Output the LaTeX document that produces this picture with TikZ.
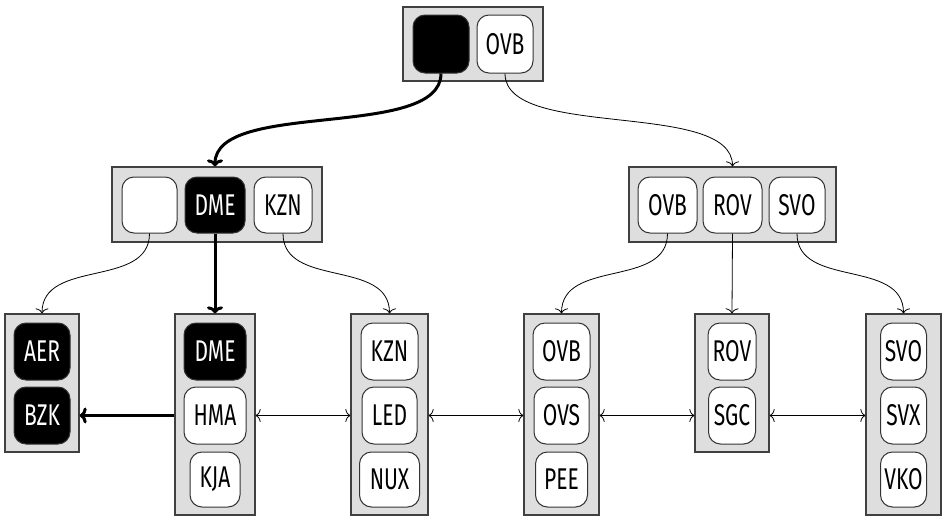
\documentclass[tikz,border=0pt]{standalone}
\usepackage{fontspec}
\setmainfont{Fira Sans}[FakeStretch=0.7]
\usetikzlibrary{arrows.meta}
\begin{document}
\begin{tikzpicture}[x=1pt,y=-1pt,
  grp/.style={draw=black!75, fill=black!13, line width=1.3pt, inner sep=0pt},
  key/.style={draw=black!80, fill=white, line width=1pt, rounded corners=12pt, minimum height=57pt, inner sep=0pt, font=\fontsize{30}{34}\selectfont},
  hot/.style={key, fill=black, text=white},
  thinarr/.style={line width=0.8pt, -{To[length=5pt,width=13pt]}},
  thinboth/.style={line width=0.8pt, {To[length=5pt,width=13pt]}-{To[length=5pt,width=13pt]}},
  thickarr/.style={line width=3pt, -{To[length=7pt,width=16pt]}}
]
\useasboundingbox (0,0) rectangle (943,517);
% root
\node[grp, minimum width=140pt, minimum height=74pt] (r) at (473,44) {};
\node[hot, minimum width=56pt, minimum height=58pt] (r1) at (441,44) {};
\node[key, minimum width=56pt, minimum height=58pt] (r2) at (505,44) {OVB};
% level 2 left
\node[grp, minimum width=210pt, minimum height=75pt] (a) at (217,204.5) {};
\node[key, minimum width=55pt, minimum height=56pt] (a1) at (149.5,205) {};
\node[hot, minimum width=60pt, minimum height=56pt] (a2) at (215,205) {DME};
\node[key, minimum width=58pt, minimum height=56pt] (a3) at (283,205) {KZN};
% level 2 right
\node[grp, minimum width=207pt, minimum height=75pt] (b) at (732.5,204.5) {};
\node[key, minimum width=59pt, minimum height=56pt] (b1) at (667.5,205) {OVB};
\node[key, minimum width=59pt, minimum height=56pt] (b2) at (732.5,205) {ROV};
\node[key, minimum width=56pt, minimum height=56pt] (b3) at (797,205) {SVO};
% leaves
\node[grp, minimum width=74pt, minimum height=138pt] (l1) at (42,383) {};
\node[hot, minimum width=56pt] (l1a) at (42,351.5) {AER};
\node[hot, minimum width=56pt] (l1b) at (42,415.5) {BZK};

\node[grp, minimum width=80pt, minimum height=201pt] (l2) at (215,414.5) {};
\node[hot, minimum width=62pt] (l2a) at (215,351.5) {DME};
\node[key, minimum width=62pt] (l2b) at (215,415.5) {HMA};
\node[key, minimum width=50pt, minimum height=55pt] (l2c) at (215,479.5) {KJA};

\node[grp, minimum width=77pt, minimum height=201pt] (l3) at (389.5,414.5) {};
\node[key, minimum width=57pt] (l3a) at (389.5,351.5) {KZN};
\node[key, minimum width=55pt] (l3b) at (389.5,415.5) {LED};
\node[key, minimum width=60pt, minimum height=55pt] (l3c) at (389.5,479.5) {NUX};

\node[grp, minimum width=75pt, minimum height=201pt] (l4) at (561.5,414.5) {};
\node[key, minimum width=57pt] (l4a) at (561.5,351.5) {OVB};
\node[key, minimum width=55pt] (l4b) at (561.5,415.5) {OVS};
\node[key, minimum width=52pt, minimum height=55pt] (l4c) at (561.5,479.5) {PEE};

\node[grp, minimum width=74pt, minimum height=138pt] (l5) at (732,383) {};
\node[key, minimum width=48pt] (l5a) at (732,351.5) {ROV};
\node[key, minimum width=47pt] (l5b) at (732,415.5) {SGC};

\node[grp, minimum width=75pt, minimum height=201pt] (l6) at (903.5,414.5) {};
\node[key, minimum width=46pt] (l6a) at (903.5,351.5) {SVO};
\node[key, minimum width=46pt] (l6b) at (903.5,415.5) {SVX};
\node[key, minimum width=46pt, minimum height=55pt] (l6c) at (903.5,479.5) {VKO};

% tree connectors
\draw[thickarr] (r1.south) .. controls +(0,67) and +(0,-67) .. (a2 |- a.north);
\draw[thinarr] (r2.south) .. controls +(0,67) and +(0,-67) .. (b2 |- b.north);
\draw[thinarr] (a1.south) .. controls +(0,55) and +(0,-55) .. (l1.north);
\draw[thickarr] (a2.south) -- (l2.north);
\draw[thinarr] (a3.south) .. controls +(0,55) and +(0,-55) .. (l3.north);
\draw[thinarr] (b1.south) .. controls +(0,55) and +(0,-55) .. (l4.north);
\draw[thinarr] (b2.south) -- (l5.north);
\draw[thinarr] (b3.south) .. controls +(0,55) and +(0,-55) .. (l6.north);
% sibling links
\draw[thickarr] (l2b.west -| l2.west) -- (l2b.west -| l1.east);
\draw[thinboth] (l2b.east -| l2.east) -- (l2b.east -| l3.west);
\draw[thinboth] (l3b.east -| l3.east) -- (l3b.east -| l4.west);
\draw[thinboth] (l4b.east -| l4.east) -- (l4b.east -| l5.west);
\draw[thinboth] (l5b.east -| l5.east) -- (l5b.east -| l6.west);
\end{tikzpicture}
\end{document}
